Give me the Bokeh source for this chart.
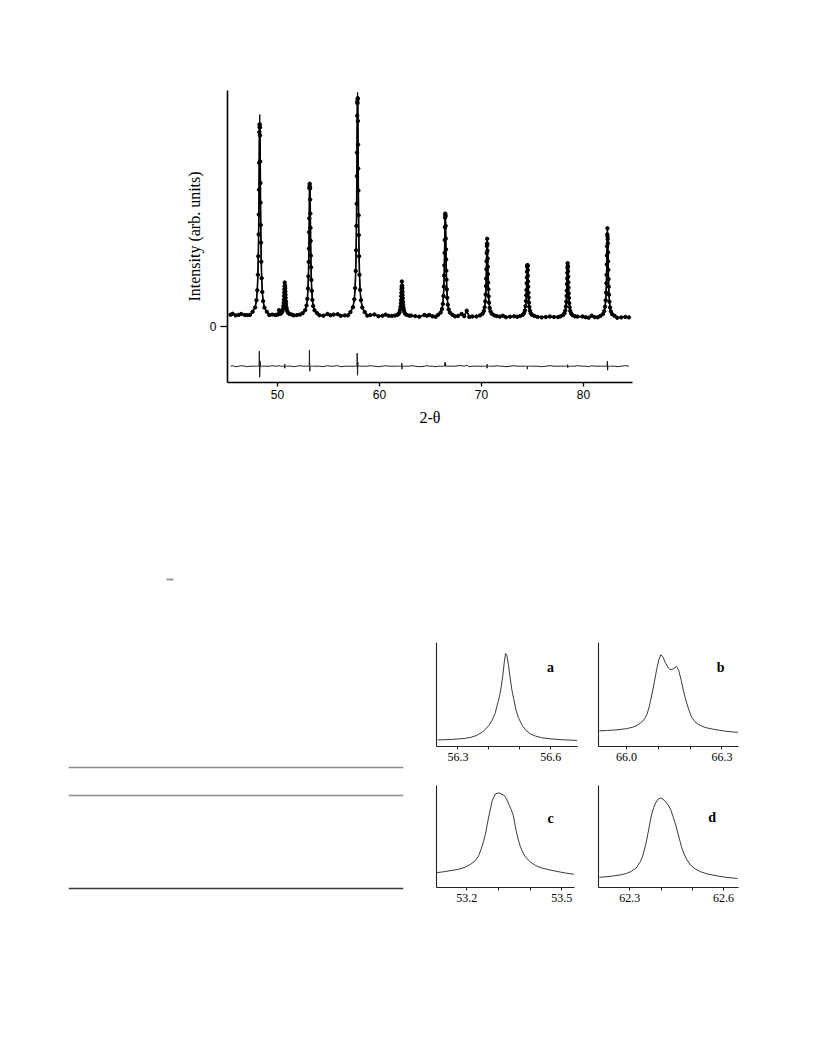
import numpy as np
from bokeh.plotting import figure
from bokeh.models import Range1d, FixedTicker, Spacer, Span, Label
from bokeh.layouts import column, row
from bokeh.embed import file_html
from bokeh.resources import INLINE

# ---------------- main Rietveld pattern (intensity in arbitrary counts) ----------------
X_TICKS = [50, 60, 70, 80]
Y_TICKS = [0]
DIFF_OFFSET = -400

PEAK_POS = [48.26, 50.72, 53.17, 57.85, 62.20, 66.45, 70.55, 74.50, 78.45, 82.35]
PEAK_OFFSETS = [-0.70, -0.45, -0.32, -0.24, -0.18, -0.14, -0.11, -0.09, -0.07, -0.055,
                -0.04, -0.025, -0.01, 0.005, 0.02, 0.035, 0.05, 0.065, 0.08, 0.10,
                0.12, 0.15, 0.19, 0.25, 0.33, 0.46, 0.70]
PEAK_CALC = [
    [144, 188, 259, 359, 514, 699, 918, 1117, 1364, 1575, 1790, 1977, 2098, 2116, 2028, 1859, 1648, 1433, 1236, 1012, 836, 645, 480, 343, 251, 186, 144],
    [116, 123, 134, 149, 173, 202, 235, 266, 304, 337, 370, 399, 417, 420, 406, 380, 348, 315, 284, 250, 223, 193, 168, 147, 132, 122, 116],
    [131, 161, 207, 274, 376, 498, 643, 775, 939, 1078, 1221, 1344, 1424, 1436, 1377, 1266, 1126, 984, 853, 706, 589, 462, 353, 263, 202, 159, 131],
    [141, 190, 269, 381, 553, 759, 1003, 1225, 1501, 1736, 1975, 2184, 2318, 2338, 2240, 2052, 1816, 1577, 1357, 1109, 911, 699, 515, 363, 260, 188, 141],
    [106, 113, 124, 140, 165, 194, 229, 261, 300, 334, 368, 398, 417, 420, 406, 379, 345, 311, 280, 244, 216, 186, 160, 138, 123, 113, 106],
    [114, 137, 172, 223, 302, 396, 507, 608, 733, 841, 950, 1045, 1106, 1115, 1070, 984, 877, 768, 668, 555, 465, 368, 285, 215, 168, 136, 114],
    [108, 125, 151, 189, 248, 318, 401, 476, 569, 649, 731, 801, 847, 854, 820, 756, 677, 595, 521, 436, 370, 297, 235, 183, 148, 124, 108],
    [102, 114, 132, 159, 201, 251, 310, 363, 429, 486, 544, 594, 627, 631, 608, 562, 506, 448, 395, 335, 287, 236, 192, 155, 130, 113, 102],
    [99, 111, 130, 156, 197, 246, 304, 356, 421, 477, 534, 583, 615, 619, 596, 552, 496, 439, 387, 328, 282, 231, 188, 152, 128, 111, 99],
    [103, 121, 151, 194, 259, 337, 430, 514, 619, 708, 799, 878, 929, 936, 899, 828, 738, 647, 564, 470, 395, 314, 245, 187, 148, 120, 103],
]
PEAK_DIFF = [
    [0, 0, 0, 0, 0, 0, 0, 0, 0, 60, 150, 40, -110, -100, -40, 50, 0, 0, 0, 0, 0, 0, 0, 0, 0, 0, 0],
    [0, 0, 0, 0, 0, 0, 0, 0, 0, 0, 0, 0, 20, -20, 0, 0, 0, 0, 0, 0, 0, 0, 0, 0, 0, 0, 0],
    [0, 0, 0, 0, 0, 0, 0, 0, 0, 0, 160, 60, 0, -50, 0, 0, 0, 0, 0, 0, 0, 0, 0, 0, 0, 0, 0],
    [0, 0, 0, 0, 0, 0, 0, 0, 0, 0, 130, 60, -90, -70, 40, 0, 0, 0, 0, 0, 0, 0, 0, 0, 0, 0, 0],
    [0, 0, 0, 0, 0, 0, 0, 0, 0, 0, 0, 0, 30, -30, 0, 0, 0, 0, 0, 0, 0, 0, 0, 0, 0, 0, 0],
    [0, 0, 0, 0, 0, 0, 0, 0, 0, 20, 40, 40, 20, 0, 30, 20, 0, 0, 0, 0, 0, 0, 0, 0, 0, 0, 0],
    [0, 0, 0, 0, 0, 0, 0, 0, 0, 0, 0, 0, -20, 20, 0, 0, 0, 0, 0, 0, 0, 0, 0, 0, 0, 0, 0],
    [0, 0, 0, 0, 0, 0, 0, 0, 0, 0, 0, 0, -30, -20, 0, 0, 0, 0, 0, 0, 0, 0, 0, 0, 0, 0, 0],
    [0, 0, 0, 0, 0, 0, 0, 0, 0, 0, 0, 0, 15, -15, 0, 0, 0, 0, 0, 0, 0, 0, 0, 0, 0, 0, 0],
    [0, 0, 0, 0, 0, 0, 0, 0, 0, 0, 0, 40, 50, -40, -30, 0, 0, 0, 0, 0, 0, 0, 0, 0, 0, 0, 0],
]
BG_X = [45.4, 45.6, 45.9, 46.2, 46.45, 46.8, 47.05, 47.3,
        49.2, 49.5, 49.8, 50.08, 50.15, 50.22,
        51.6, 51.9, 52.2,
        54.1, 54.5, 54.9, 55.2, 55.5, 55.9, 56.2, 56.6, 56.9,
        58.8, 59.1, 59.5, 59.9, 60.3, 60.6, 60.9, 61.2,
        63.1, 63.5, 63.9, 64.4, 64.65, 64.9, 65.2, 65.5,
        67.4, 67.7, 68.05, 68.3, 68.55, 68.8, 69.1, 69.5,
        71.5, 71.8, 72.1, 72.4, 72.8, 73.2, 73.5,
        75.5, 75.9, 76.3, 76.7, 77.1, 77.5,
        79.4, 79.9, 80.2, 80.5, 80.8, 81.1, 81.4,
        83.3, 83.7, 84.1, 84.45]
BG_I = [114, 119, 113, 113, 117, 112, 116, 113,
        112, 111, 112, 120, 150, 126,
        113, 111, 111,
        110, 110, 117, 110, 116, 115, 109, 108, 108,
        106, 106, 117, 105, 105, 111, 104, 103,
        101, 101, 100, 112, 100, 112, 99, 99,
        98, 98, 118, 100, 145, 98, 97, 97,
        96, 96, 105, 95, 95, 94, 94,
        93, 93, 92, 92, 92, 91,
        91, 97, 90, 90, 100, 90, 89,
        89, 88, 88, 88]
BG_DIFF = [0, 5, -5, 0, 5, 0, -5, 0,
           0, 5, 0, 0, 10, 0,
           -5, 0, 5,
           0, -5, 5, 0, 0, 5, -5, 0, 0,
           0, 5, 0, -5, 0, 5, 0, 0,
           5, 0, -5, 0, 5, 0, 0, -5,
           0, 5, 5, 0, 10, -5, 0, 0,
           5, 0, 0, -5, 0, 5, 0,
           0, -5, 0, 5, 0, 0,
           5, 0, 0, -5, 5, 0, 0,
           -5, 0, 5, 0]

# ---------------- inset peak profiles ----------------
INSET_A_X = [56.235, 56.26, 56.28, 56.30, 56.32, 56.34, 56.36, 56.38, 56.40, 56.41, 56.42, 56.43, 56.435,
             56.44, 56.445, 56.45, 56.454, 56.458, 56.463, 56.468, 56.474, 56.48, 56.487, 56.495, 56.508,
             56.52, 56.535, 56.55, 56.57, 56.60, 56.63, 56.66, 56.685]
INSET_A_Y = [6.6, 6.8, 7.1, 7.5, 8.0, 9.0, 11.0, 14.5, 21.0, 26.0, 33.0, 45.0, 51.0, 60.0, 71.0, 85.0, 93.0,
             91.0, 82.0, 70.0, 57.0, 48.0, 37.0, 29.0, 21.0, 16.0, 12.5, 10.5, 8.8, 7.6, 6.9, 6.4, 6.1]
INSET_B_X = [65.915, 65.94, 65.97, 66.00, 66.02, 66.035, 66.045, 66.055, 66.065, 66.072, 66.08, 66.088,
             66.095, 66.102, 66.108, 66.115, 66.123, 66.132, 66.14, 66.148, 66.157, 66.164, 66.172, 66.18,
             66.188, 66.196, 66.204, 66.215, 66.225, 66.236, 66.25, 66.27, 66.29, 66.31, 66.33, 66.35]
INSET_B_Y = [15.8, 16.2, 16.8, 18.0, 19.5, 21.5, 24.0, 27.0, 33.0, 41.0, 53.0, 66.0, 78.0, 88.0, 92.7, 90.0,
             84.0, 79.0, 77.4, 78.5, 80.7, 77.0, 66.7, 55.0, 45.0, 37.0, 30.0, 25.0, 22.5, 20.7, 19.0,
             17.6, 16.5, 15.5, 14.8, 14.3]
INSET_C_X = [53.107, 53.13, 53.155, 53.175, 53.196, 53.213, 53.228, 53.238, 53.246, 53.254, 53.26, 53.265,
             53.272, 53.281, 53.291, 53.302, 53.317, 53.325, 53.333, 53.34, 53.346, 53.351, 53.356, 53.363,
             53.37, 53.378, 53.386, 53.40, 53.417, 53.435, 53.459, 53.485, 53.512, 53.538]
INSET_C_Y = [15.0, 16.0, 17.3, 18.5, 20.6, 23.5, 27.3, 32.3, 39.0, 47.3, 55.0, 64.0, 75.0, 88.0, 94.6, 95.6,
             93.3, 90.0, 84.0, 79.0, 74.0, 66.0, 57.3, 48.0, 40.6, 35.0, 30.6, 26.0, 22.3, 19.8, 18.0, 16.2,
             14.6, 13.4]
INSET_D_X = [62.203, 62.23, 62.25, 62.27, 62.29, 62.305, 62.32, 62.334, 62.34, 62.345, 62.351, 62.356,
             62.361, 62.366, 62.371, 62.377, 62.383, 62.39, 62.398, 62.406, 62.414, 62.422, 62.43, 62.438,
             62.446, 62.453, 62.46, 62.466, 62.473, 62.483, 62.494, 62.51, 62.526, 62.55, 62.58, 62.61, 62.645]
INSET_D_Y = [10.3, 11.0, 11.8, 12.7, 14.3, 16.3, 19.5, 26.0, 30.5, 36.0, 43.0, 51.0, 59.0, 67.7, 75.0, 81.0,
             85.5, 89.0, 90.4, 89.3, 87.0, 83.5, 79.4, 72.0, 64.4, 56.0, 47.7, 40.5, 34.4, 28.0, 22.7, 18.7,
             16.0, 13.5, 11.7, 10.2, 9.1]
INSET_TICKS = [[56.3, 56.4, 56.5, 56.6], [66.0, 66.1, 66.2, 66.3], [53.2, 53.3, 53.4, 53.5], [62.3, 62.4, 62.5, 62.6]]
INSET_TICK_LABELS = [["56.3", "", "", "56.6"], ["66.0", "", "", "66.3"], ["53.2", "", "", "53.5"], ["62.3", "", "", "62.6"]]
INSET_TAGS = ["a", "b", "c", "d"]
INSET_TAG_POS = [(56.599, 79), (66.296, 80), (53.465, 70), (62.564, 70.7)]

# page remnants (table rules of the original page)
TABLE_RULE_Y = [330, 358, 451]
TABLE_RULE_COLORS = ["#8c8c8c", "#8c8c8c", "#3c3c3c"]

# ---------------- assemble main data ----------------
xs = list(BG_X)
calc = list(BG_I)
diff = list(BG_DIFF)
for c, row_c, row_d in zip(PEAK_POS, PEAK_CALC, PEAK_DIFF):
    for o, v, d in zip(PEAK_OFFSETS, row_c, row_d):
        xs.append(c + o)
        calc.append(v)
        diff.append(d)
xs = np.array(xs)
order = np.argsort(xs)
xs = xs[order]
calc = np.array(calc, dtype=float)[order]
diff = np.array(diff, dtype=float)[order]
obs = calc + diff
diff_curve = diff + DIFF_OFFSET

SERIF = "Liberation Serif"
SANS = "Liberation Sans"

main = figure(width=652, height=437, x_range=Range1d(45.1, 84.8), y_range=Range1d(-563, 2357),
              min_border_left=227, min_border_right=20, min_border_top=90, min_border_bottom=55,
              output_backend="svg", toolbar_location=None)
main.grid.visible = False
main.outline_line_color = None
main.line(xs, obs, line_width=1.6, color="black")
main.scatter(xs, obs, size=3.4, color="black", marker="circle")
main.line(xs, calc, line_width=1.0, color="black")
main.line(xs, diff_curve, line_width=1.0, color="#1a1a1a")

main.xaxis.ticker = FixedTicker(ticks=X_TICKS)
main.yaxis.ticker = FixedTicker(ticks=Y_TICKS)
main.axis.minor_tick_line_color = None
main.axis.axis_line_width = 1.6
main.axis.axis_line_color = "black"
main.axis.major_tick_line_color = "black"
main.axis.major_tick_line_width = 1.3
main.axis.major_tick_in = 0
main.xaxis.major_tick_out = 4
main.yaxis.major_tick_out = 7
main.axis.major_label_text_font = SANS
main.axis.major_label_text_font_size = "12px"
main.axis.major_label_text_color = "black"
main.xaxis.major_label_standoff = 3
main.yaxis.major_label_standoff = 4
main.xaxis.axis_label = "2-θ"
main.yaxis.axis_label = "Intensity (arb. units)"
main.axis.axis_label_text_font = SERIF
main.axis.axis_label_text_font_style = "normal"
main.axis.axis_label_text_font_size = "16px"
main.axis.axis_label_text_color = "black"
main.xaxis.axis_label_standoff = 7
main.yaxis.axis_label_standoff = 4

# ---------------- table remnant figure ----------------
table_fig = figure(width=420, height=473, x_range=Range1d(0, 335), y_range=Range1d(473, 0),
                   min_border_left=68, min_border_right=17, min_border_top=0, min_border_bottom=0,
                   x_axis_location=None, y_axis_location=None,
                   output_backend="svg", toolbar_location=None)
table_fig.grid.visible = False
table_fig.outline_line_color = None
for yv, col in zip(TABLE_RULE_Y, TABLE_RULE_COLORS):
    table_fig.add_layout(Span(location=yv, dimension="width", line_color=col, line_width=1.3))
table_fig.segment(x0=[98], y0=[142], x1=[105], y1=[142], line_color="#999999", line_width=2)

# ---------------- insets ----------------
def make_inset(xv, yv, xr, yr, ticks, labels, tag, tagpos, w, h, mbl, mbr, mbt, mbb):
    p = figure(width=w, height=h, x_range=Range1d(*xr), y_range=Range1d(*yr),
               min_border_left=mbl, min_border_right=mbr, min_border_top=mbt, min_border_bottom=mbb,
               output_backend="svg", toolbar_location=None)
    p.grid.visible = False
    p.outline_line_color = None
    p.line(xv, yv, line_width=1.0, color="#3a3a3a")
    p.xaxis.ticker = FixedTicker(ticks=ticks)
    p.xaxis.major_label_overrides = {t: l for t, l in zip(ticks, labels)}
    p.yaxis.ticker = FixedTicker(ticks=[])
    p.axis.minor_tick_line_color = None
    p.axis.axis_line_color = "#222222"
    p.axis.axis_line_width = 1.1
    p.xaxis.major_tick_in = 0
    p.xaxis.major_tick_out = 3
    p.xaxis.major_tick_line_color = "#222222"
    p.xaxis.major_label_text_font = SERIF
    p.xaxis.major_label_text_font_size = "12px"
    p.xaxis.major_label_text_color = "black"
    p.xaxis.major_label_standoff = 3
    p.add_layout(Label(x=tagpos[0], y=tagpos[1], text=tag, text_font=SERIF, text_font_style="bold",
                       text_font_size="14px", text_color="black",
                       text_align="center", text_baseline="middle"))
    return p

fig_a = make_inset(INSET_A_X, INSET_A_Y, (56.231, 56.686), (0, 104), INSET_TICKS[0], INSET_TICK_LABELS[0],
                   INSET_TAGS[0], INSET_TAG_POS[0], 162, 137, 16, 5, 5, 28)
fig_b = make_inset(INSET_B_X, INSET_B_Y, (65.912, 66.352), (0, 105), INSET_TICKS[1], INSET_TICK_LABELS[1],
                   INSET_TAGS[1], INSET_TAG_POS[1], 166, 137, 16, 10, 5, 27)
fig_c = make_inset(INSET_C_X, INSET_C_Y, (53.105, 53.54), (0, 103), INSET_TICKS[2], INSET_TICK_LABELS[2],
                   INSET_TAGS[2], INSET_TAG_POS[2], 162, 141, 16, 8, 10, 28)
fig_d = make_inset(INSET_D_X, INSET_D_Y, (62.2, 62.648), (0, 103), INSET_TICKS[3], INSET_TICK_LABELS[3],
                   INSET_TAGS[3], INSET_TAG_POS[3], 166, 141, 16, 10, 11, 27)

insets = column(Spacer(width=328, height=200), row(fig_a, fig_b), row(fig_c, fig_d))
layout = column(main, row(table_fig, insets))

with open("out.html", "w") as f:
    f.write(file_html(layout, INLINE))
